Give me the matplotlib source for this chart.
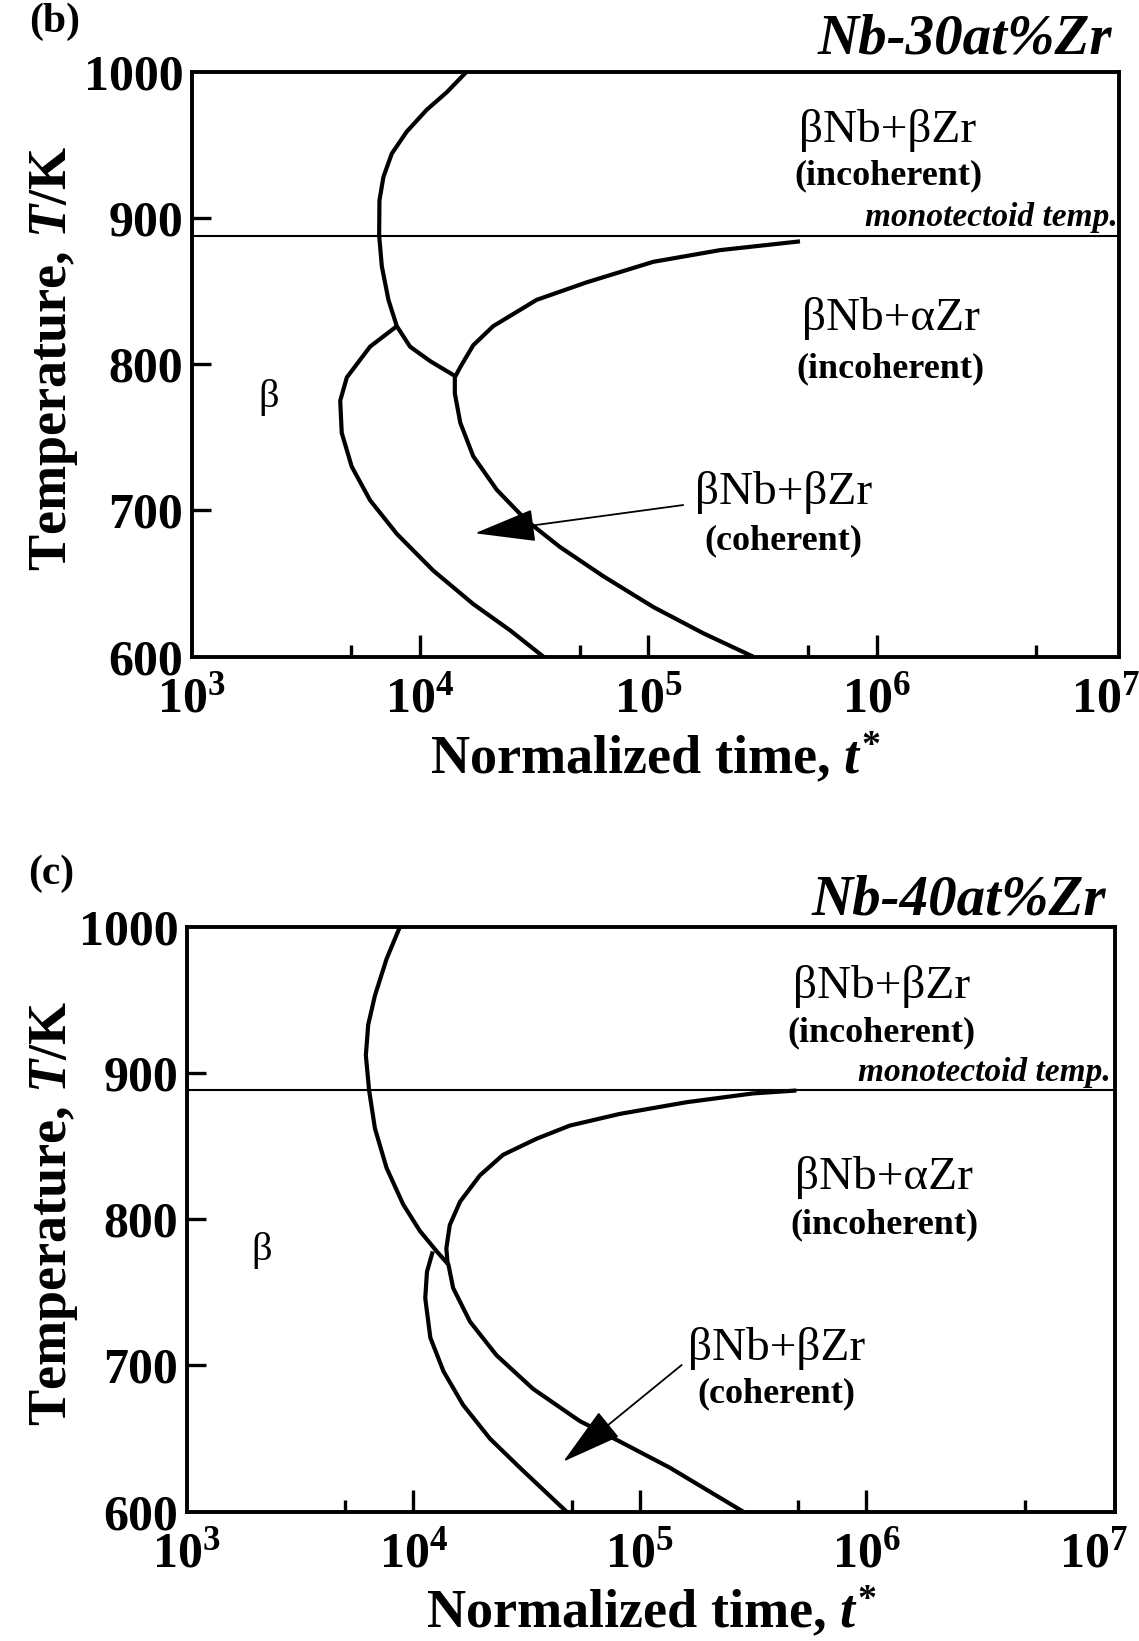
import matplotlib
matplotlib.use('Agg')
import matplotlib.pyplot as plt
from matplotlib.ticker import NullFormatter

plt.rcParams['font.family'] = ['Liberation Serif', 'DejaVu Serif']
plt.rcParams['font.weight'] = 'bold'
plt.rcParams['axes.labelweight'] = 'bold'
plt.rcParams['axes.titleweight'] = 'bold'
plt.rcParams['mathtext.fontset'] = 'custom'
plt.rcParams['mathtext.rm'] = 'Liberation Serif:bold'
plt.rcParams['mathtext.it'] = 'Liberation Serif:italic:bold'
plt.rcParams['mathtext.bf'] = 'Liberation Serif:bold'

W, H = 1139, 1641

# ---- data (normalized time t*, temperature T/K) ----
monotectoid_T = 888

# (b) Nb-30at%Zr
b_incoh_beta_t = [1.60e4, 1.31e4, 1.07e4, 8.74e3, 7.52e3, 6.91e3, 6.64e3, 6.62e3, 6.80e3, 7.27e3,
                  7.91e3, 9.04e3, 1.11e4, 1.42e4]
b_incoh_beta_T = [1000, 986, 974, 959, 944, 928, 912, 888, 867, 844, 826, 812, 802, 792]
b_coh_t = [7.91e3, 6.04e3, 4.78e3, 4.47e3, 4.54e3, 5.02e3, 6.04e3, 7.91e3, 1.14e4, 1.71e4, 2.48e4, 3.47e4]
b_coh_T = [826, 812, 791, 775, 753, 730, 707, 684, 659, 636, 618, 600]
b_alpha_t = [4.61e5, 2.06e5, 1.05e5, 5.37e4, 3.24e4, 2.09e4, 1.71e4, 1.50e4, 1.42e4, 1.42e4, 1.50e4,
             1.71e4, 2.17e4, 2.93e4, 4.10e4, 6.35e4, 1.05e5, 1.74e5, 2.88e5]
b_alpha_T = [884, 878, 870, 856, 844, 826, 813, 798, 791, 780, 760, 737, 714, 693, 675, 655, 634, 616, 600]

# (c) Nb-40at%Zr
c_incoh_beta_t = [8.74e3, 7.63e3, 6.78e3, 6.33e3, 6.18e3, 6.39e3, 6.78e3, 7.63e3, 9.04e3, 1.07e4,
                  1.27e4, 1.43e4, 1.50e4, 1.78e4, 2.33e4, 3.38e4, 5.43e4, 8.16e4, 1.36e5, 2.86e5]
c_incoh_beta_T = [1000, 978, 953, 933, 912, 888, 862, 835, 810, 792, 778, 769, 753, 730, 707, 684,
                  662, 648, 630, 600]
c_alpha_t = [4.91e5, 3.16e5, 1.61e5, 8.16e4, 4.91e4, 3.50e4, 2.49e4, 1.97e4, 1.61e4, 1.45e4, 1.40e4, 1.42e4]
c_alpha_T = [888, 886, 880, 872, 864, 855, 844, 830, 812, 796, 780, 769]
c_coh_t = [1.22e4, 1.15e4, 1.13e4, 1.19e4, 1.36e4, 1.66e4, 2.18e4, 2.96e4, 4.75e4]
c_coh_T = [778, 764, 746, 719, 696, 673, 650, 630, 600]

x_major = [1e3, 1e4, 1e5, 1e6, 1e7]
x_minor = [5e3, 5e4, 5e5, 5e6]
x_labels = [r'$10^{3}$', r'$10^{4}$', r'$10^{5}$', r'$10^{6}$', r'$10^{7}$']
y_major = [600, 700, 800, 900, 1000]

# label anchors (t, T) per panel
b_label_pos = {'incoh_b': (1.12e6, 959.5), 'incoh_b2': (1.12e6, 928.7), 'mono': (1.14e7, 900),
               'incoh_a': (1.15e6, 831), 'incoh_a2': (1.15e6, 796.7), 'beta': (2.18e3, 777),
               'coh': (3.89e5, 712.6), 'coh2': (3.89e5, 679)}
c_label_pos = {'incoh_b': (1.17e6, 958.8), 'incoh_b2': (1.17e6, 927.3), 'mono': (1.2e7, 900),
               'incoh_a': (1.20e6, 828.2), 'incoh_a2': (1.20e6, 796), 'beta': (2.15e3, 778.3),
               'coh': (4.02e5, 711.8), 'coh2': (4.02e5, 680.3)}


def setup(ax, xmax):
    ax.set_xscale('log')
    ax.set_xlim(1e3, xmax)
    ax.set_ylim(600, 1000)
    ax.set_xticks(x_major)
    ax.set_xticklabels(x_labels)
    ax.set_xticks(x_minor, minor=True)
    ax.xaxis.set_minor_formatter(NullFormatter())
    ax.set_yticks(y_major)
    ax.tick_params(axis='both', which='both', direction='in', top=False, right=False,
                   width=2.4, labelsize=36)
    ax.tick_params(axis='x', which='major', length=15.6, pad=14)
    ax.tick_params(axis='x', which='minor', length=8.8)
    ax.tick_params(axis='y', which='major', length=13.7, pad=6)
    for t in (ax.xaxis.get_major_ticks()[0], ax.xaxis.get_major_ticks()[-1],
              ax.yaxis.get_major_ticks()[0], ax.yaxis.get_major_ticks()[-1]):
        t.tick1line.set_visible(False)
    for s in ax.spines.values():
        s.set_linewidth(2.8)
    ax.axhline(monotectoid_T, color='k', lw=1.5)
    ax.set_ylabel(r'Temperature, $T$/K', fontsize=39)
    ax.set_xlabel(r'Normalized time, $t^{*}$', fontsize=39, va='top')


def labels(ax, pos):
    kw = dict(ha='center', va='center', color='k')
    ax.text(*pos['incoh_b'], 'βNb+βZr', fontsize=34, fontweight='normal', **kw)
    ax.text(*pos['incoh_b2'], '(incoherent)', fontsize=26, **kw)
    ax.text(*pos['mono'], 'monotectoid temp.', fontsize=24, style='italic', ha='right', va='center')
    ax.text(*pos['incoh_a'], 'βNb+αZr', fontsize=34, fontweight='normal', **kw)
    ax.text(*pos['incoh_a2'], '(incoherent)', fontsize=26, **kw)
    ax.text(*pos['beta'], 'β', fontsize=29, fontweight='normal', **kw)
    ax.text(*pos['coh'], 'βNb+βZr', fontsize=34, fontweight='normal', **kw)
    ax.text(*pos['coh2'], '(coherent)', fontsize=26, **kw)


arrow_kw = dict(arrowstyle='-|>,head_length=1.95,head_width=0.52', mutation_scale=20,
                lw=1.3, color='k', shrinkA=0, shrinkB=0)
curve_kw = dict(color='k', lw=3.0, solid_joinstyle='round', solid_capstyle='butt')

fig = plt.figure(figsize=(W / 100, H / 100), dpi=100)

# panel (b)
axb = fig.add_axes([191.7 / W, 1 - 656.7 / H, (1119 - 191.7) / W, (656.7 - 71.7) / H])
setup(axb, 1.15e7)
axb.plot(b_incoh_beta_t, b_incoh_beta_T, **curve_kw)
axb.plot(b_coh_t, b_coh_T, **curve_kw)
axb.plot(b_alpha_t, b_alpha_T, **curve_kw)
labels(axb, b_label_pos)
axb.annotate('', xy=(1.74e4, 684.4), xytext=(1.42e5, 703.7), arrowprops=arrow_kw)
tb = axb.set_title('Nb-30at%Zr', loc='right', fontsize=41, style='italic', pad=13)
tb.set_x(0.9925)
axb.yaxis.set_label_coords(-0.12, 0.51)
axb.xaxis.set_label_coords(0.5, -0.128)
fig.text(29 / W, 1 - 3 / H, '(b)', fontsize=30, ha='left', va='top')

# panel (c)
axc = fig.add_axes([186.6 / W, 1 - 1511.7 / H, (1115 - 186.6) / W, (1511.7 - 926.7) / H])
setup(axc, 1.25e7)
axc.plot(c_incoh_beta_t, c_incoh_beta_T, **curve_kw)
axc.plot(c_alpha_t, c_alpha_T, **curve_kw)
axc.plot(c_coh_t, c_coh_T, **curve_kw)
labels(axc, c_label_pos)
axc.annotate('', xy=(4.59e4, 634.2), xytext=(1.53e5, 700.3), arrowprops=arrow_kw)
tc = axc.set_title('Nb-40at%Zr', loc='right', fontsize=41, style='italic', pad=9)
tc.set_x(0.990)
axc.yaxis.set_label_coords(-0.115, 0.51)
axc.xaxis.set_label_coords(0.5, -0.126)
fig.text(28 / W, 1 - 855 / H, '(c)', fontsize=30, ha='left', va='top')

fig.savefig('out.png', dpi=100)
